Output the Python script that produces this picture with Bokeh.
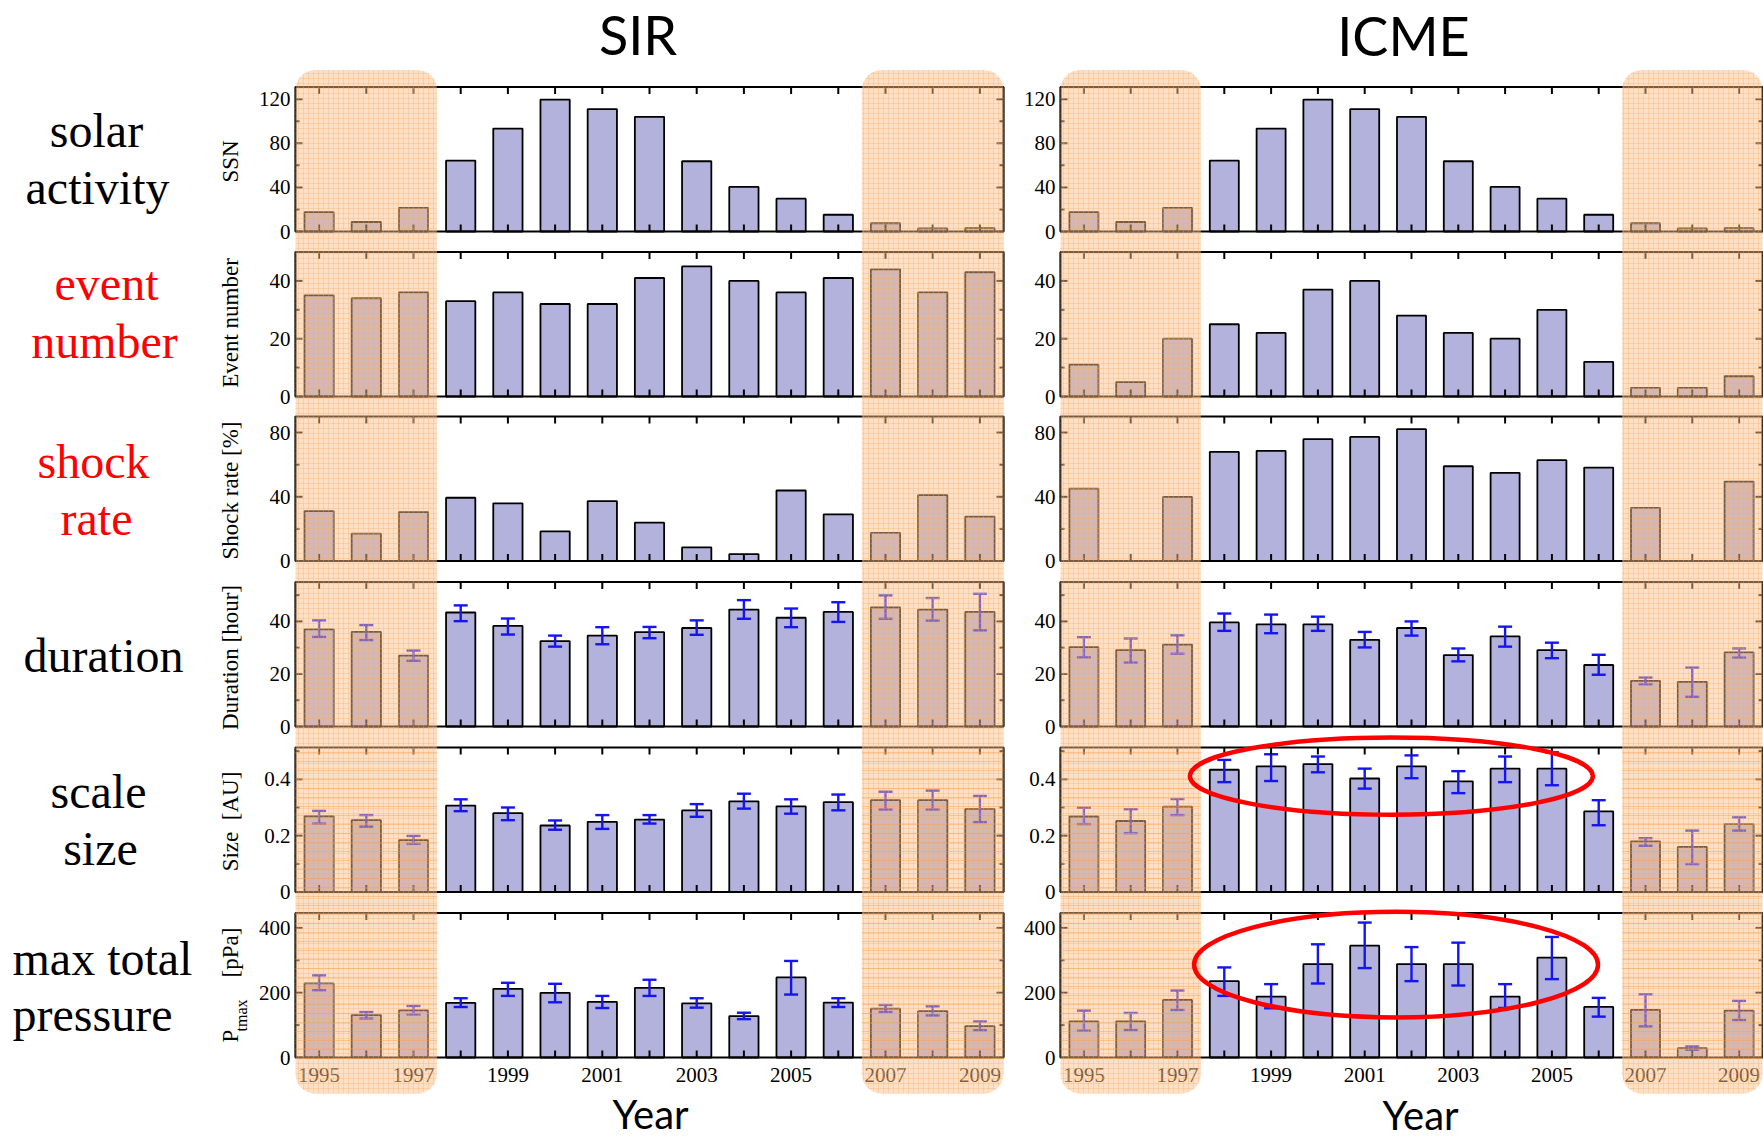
import numpy as np
from bokeh.plotting import figure
from bokeh.models import Range1d
from bokeh.embed import file_html
from bokeh.resources import INLINE
from bokeh.core.properties import value

# ---------------- data ----------------
years = list(range(1995, 2010))
year_labels = [1995, 1997, 1999, 2001, 2003, 2005, 2007, 2009]

ssn = [17.5, 8.6, 21.5, 64.3, 93.3, 119.6, 111.0, 104.0, 63.7, 40.4, 29.8, 15.2, 7.5, 2.9, 3.1]

sir_event = [35, 34, 36, 33, 36, 32, 32, 41, 45, 40, 36, 41, 44, 36, 43]
icme_event = [11, 5, 20, 25, 22, 37, 40, 28, 22, 20, 30, 12, 3, 3, 7]

sir_shock = [31.1, 17.1, 30.5, 39.4, 35.9, 18.4, 37.3, 23.9, 8.5, 4.3, 43.9, 29.1, 17.5, 41.0, 27.6]
icme_shock = [45.1, 0, 39.9, 68.0, 68.6, 75.9, 77.3, 82.1, 59.0, 54.9, 62.8, 58.2, 33.1, 0, 49.5]

sir_dur = [37.0, 36.0, 27.0, 43.4, 38.3, 32.5, 34.6, 35.9, 37.5, 44.5, 41.4, 43.6, 45.3, 44.5, 43.6]
sir_dur_lo = [34.1, 32.9, 25.0, 40.1, 35.0, 30.4, 31.3, 33.6, 34.9, 41.0, 37.8, 39.8, 41.0, 40.3, 36.6]
sir_dur_hi = [40.4, 38.6, 28.9, 46.1, 41.1, 34.6, 37.8, 37.9, 40.4, 48.1, 44.9, 47.3, 49.9, 48.9, 50.5]

icme_dur = [30.2, 29.1, 31.2, 39.6, 38.9, 38.9, 33.0, 37.5, 27.2, 34.3, 29.1, 23.4, 17.4, 17.0, 28.2]
icme_dur_lo = [26.3, 24.3, 27.7, 36.4, 35.5, 36.4, 30.1, 34.6, 24.8, 30.4, 26.0, 19.7, 16.1, 11.3, 26.2]
icme_dur_hi = [34.0, 33.5, 34.7, 43.0, 42.6, 41.8, 36.0, 40.0, 29.7, 38.0, 31.9, 27.3, 18.6, 22.4, 29.7]

sir_size = [0.269, 0.255, 0.184, 0.307, 0.280, 0.236, 0.249, 0.257, 0.290, 0.322, 0.304, 0.319, 0.326, 0.326, 0.295]
sir_size_lo = [0.243, 0.232, 0.171, 0.287, 0.255, 0.221, 0.224, 0.243, 0.267, 0.296, 0.278, 0.290, 0.293, 0.293, 0.248]
sir_size_hi = [0.288, 0.273, 0.199, 0.329, 0.300, 0.254, 0.273, 0.273, 0.312, 0.349, 0.329, 0.346, 0.356, 0.360, 0.341]

icme_size = [0.268, 0.252, 0.303, 0.434, 0.446, 0.454, 0.403, 0.446, 0.393, 0.438, 0.438, 0.286, 0.180, 0.160, 0.241]
icme_size_lo = [0.241, 0.209, 0.273, 0.390, 0.394, 0.425, 0.367, 0.404, 0.351, 0.390, 0.379, 0.237, 0.164, 0.099, 0.218]
icme_size_hi = [0.299, 0.294, 0.330, 0.469, 0.489, 0.481, 0.438, 0.485, 0.429, 0.481, 0.496, 0.326, 0.191, 0.218, 0.265]

sir_pres = [228.6, 130.9, 145.5, 168.3, 212.0, 199.5, 171.4, 215.0, 167.3, 127.8, 247.3, 169.4, 150.6, 143.4, 96.6]
sir_pres_lo = [207.8, 120.5, 133.0, 155.8, 190.1, 170.4, 152.7, 190.0, 153.8, 118.4, 194.3, 155.8, 140.3, 129.9, 84.2]
sir_pres_hi = [253.5, 140.3, 159.0, 182.9, 230.6, 227.5, 190.1, 240.0, 182.9, 138.2, 298.0, 182.9, 162.0, 157.9, 111.2]

icme_pres = [111.6, 111.6, 177.8, 235.7, 188.1, 288.4, 345.2, 288.4, 288.4, 188.1, 308.0, 156.1, 146.8, 28.9, 144.7]
icme_pres_lo = [82.7, 84.8, 146.8, 190.2, 151.9, 228.4, 276.0, 235.7, 222.2, 153.0, 241.9, 126.1, 96.1, 23.8, 115.8]
icme_pres_hi = [144.7, 137.5, 206.7, 278.0, 226.4, 349.4, 416.5, 340.8, 354.5, 226.4, 372.0, 184.0, 195.3, 34.1, 174.7]

# axis setup per row: (ymax, major ticks, major labels, minor ticks)
row_axes = [
    (131, [0, 40, 80, 120], ["0", "40", "80", "120"], [20, 60, 100]),
    (50, [0, 20, 40], ["0", "20", "40"], [10, 30]),
    (90, [0, 40, 80], ["0", "40", "80"], [20, 60]),
    (55, [0, 20, 40], ["0", "20", "40"], [10, 30, 50]),
    (0.513, [0, 0.2, 0.4], ["0", "0.2", "0.4"], [0.1, 0.3, 0.5]),
    (446, [0, 200, 400], ["0", "200", "400"], [100, 300]),
]

quiet_bands_left = [1994.5, 2006.5]
quiet_bands_right = [1997.5, 2009.5]

row_titles = [["solar", "activity"], ["event", "number"], ["shock", "rate"],
              ["duration"], ["scale", "size"], ["max total", "pressure"]]
row_title_colors = ["black", "red", "red", "black", "black", "black"]
y_titles = ["SSN", "Event number", "Shock rate [%]", "Duration [hour]", "Size\u00a0\u00a0[AU]"]

# ---------------- layout / style ----------------
W, H = 1763, 1139
XL = (1994.5, 2009.5)
COLS = {"SIR": (295.0, 1003.0), "ICME": (1060.0, 1762.0)}
ROW_TOP = [86.5, 251.5, 416.0, 581.5, 747.0, 912.5]
ROW_H = 144.5
BAR_W = 0.62
BAR_FILL = "#B2B2DC"
ERR_COL = "#1515F0"
SERIF = value("Liberation Serif")
SANS = value("Lato")

p = figure(width=W, height=H, x_range=Range1d(0, W), y_range=Range1d(H, 0),
           output_backend="svg", toolbar_location=None,
           x_axis_type=None, y_axis_type=None, min_border=0,
           outline_line_color=None, background_fill_color="white",
           border_fill_color="white")
p.grid.visible = False


def make_sub(col, row, ymax):
    x0, x1 = COLS[col]
    top = ROW_TOP[row]
    return p.subplot(x_source=Range1d(*XL), y_source=Range1d(0, ymax),
                     x_target=Range1d(x0, x1), y_target=Range1d(top + ROW_H, top))


def draw_panel(col, row, vals, lo=None, hi=None, show_years=False):
    ymax, majors, maj_labels, minors = row_axes[row]
    s = make_sub(col, row, ymax)
    x0, x1 = COLS[col]
    ppx = (x1 - x0) / (XL[1] - XL[0])
    ppy = ROW_H / ymax
    s.vbar(x=years, top=vals, bottom=0, width=BAR_W, fill_color=BAR_FILL,
           line_color="black", line_width=1.8)
    if lo is not None:
        cap = 7.0 / ppx
        xl = [y - cap for y in years]
        xr = [y + cap for y in years]
        s.segment(x0=years, x1=years, y0=lo, y1=hi, line_color=ERR_COL, line_width=2.4)
        s.segment(x0=xl, x1=xr, y0=lo, y1=lo, line_color=ERR_COL, line_width=2.4)
        s.segment(x0=xl, x1=xr, y0=hi, y1=hi, line_color=ERR_COL, line_width=2.4)
    # frame
    s.quad(left=[XL[0]], right=[XL[1]], bottom=[0], top=[ymax], fill_color=None,
           line_color="black", line_width=2.2)
    # x ticks (inward, top and bottom)
    tl = 7.0 / ppy
    s.segment(x0=years, x1=years, y0=[0] * len(years), y1=[tl] * len(years),
              line_color="black", line_width=2)
    s.segment(x0=years, x1=years, y0=[ymax] * len(years), y1=[ymax - tl] * len(years),
              line_color="black", line_width=2)
    # y ticks (inward, left and right)
    for ticks, L in ((majors, 7.0 / ppx), (minors, 4.0 / ppx)):
        n = len(ticks)
        s.segment(x0=[XL[0]] * n, x1=[XL[0] + L] * n, y0=ticks, y1=ticks,
                  line_color="black", line_width=2)
        s.segment(x0=[XL[1]] * n, x1=[XL[1] - L] * n, y0=ticks, y1=ticks,
                  line_color="black", line_width=2)
    s.text(x=[XL[0]] * len(majors), y=majors, text=maj_labels, x_offset=-5,
           text_align="right", text_baseline="middle", text_font=SERIF,
           text_font_size=value("21px"), text_color="black")
    if show_years:
        s.text(x=year_labels, y=[0] * len(year_labels), text=[str(y) for y in year_labels],
               y_offset=17, text_align="center", text_baseline="middle", text_font=SERIF,
               text_font_size=value("21px"), text_color="black")
    return s


sir_rows = [(ssn, None, None), (sir_event, None, None), (sir_shock, None, None),
            (sir_dur, sir_dur_lo, sir_dur_hi), (sir_size, sir_size_lo, sir_size_hi),
            (sir_pres, sir_pres_lo, sir_pres_hi)]
icme_rows = [(ssn, None, None), (icme_event, None, None), (icme_shock, None, None),
             (icme_dur, icme_dur_lo, icme_dur_hi), (icme_size, icme_size_lo, icme_size_hi),
             (icme_pres, icme_pres_lo, icme_pres_hi)]

icme_subs = {}
for r in range(6):
    v, lo, hi = sir_rows[r]
    draw_panel("SIR", r, v, lo, hi, show_years=(r == 5))
    v, lo, hi = icme_rows[r]
    icme_subs[r] = draw_panel("ICME", r, v, lo, hi, show_years=(r == 5))

# ---------------- texts ----------------
p.text(x=[637.5, 1403], y=[34, 34.5], text=["SIR", "ICME"], text_font=SANS,
       text_font_size=value("54px"), text_align="center", text_baseline="middle",
       text_color="black")
p.text(x=[650, 1420], y=[1113.5, 1114.5], text=["Year", "Year"], text_font=SANS,
       text_font_size=value("40px"), text_align="center", text_baseline="middle",
       text_color="black")

# row titles (y = visual middle of each line)
TF = value("48px")
title_pos = [
    [(96, 130), (97, 187)],
    [(106, 283), (104, 341)],
    [(93, 460.5), (96, 518)],
    [(103, 654.5)],
    [(98, 791), (100, 848)],
]
for r, lines in enumerate(row_titles[:5]):
    for (tx, ty), t in zip(title_pos[r], lines):
        p.text(x=[tx], y=[ty], text=[t], text_font=SERIF, text_font_size=TF,
               text_align="center", text_baseline="middle", text_color=row_title_colors[r])
p.text(x=[12, 12], y=[958, 1014], text=row_titles[5], text_font=SERIF,
       text_font_size=TF, text_align="left", text_baseline="middle",
       text_color="black")

# y-axis titles (SIR column only)
ytitle_centers = [161, 322.5, 490, 657, 821]
for t, cy in zip(y_titles, ytitle_centers):
    p.text(x=[230], y=[cy], text=[t], angle=np.pi / 2, text_font=SERIF,
           text_font_size=value("23px"), text_align="center", text_baseline="middle",
           text_color="black")
# P_tmax [pPa]
p.text(x=[230], y=[1042], text=["P"], angle=np.pi / 2, text_font=SERIF,
       text_font_size=value("23px"), text_align="left", text_baseline="middle",
       text_color="black")
p.text(x=[241], y=[1031], text=["tmax"], angle=np.pi / 2, text_font=SERIF,
       text_font_size=value("16px"), text_align="left", text_baseline="middle",
       text_color="black")
p.text(x=[230], y=[977], text=["[pPa]"], angle=np.pi / 2, text_font=SERIF,
       text_font_size=value("23px"), text_align="left", text_baseline="middle",
       text_color="black")

# ---------------- quiet-sun shading ----------------
for col in ("SIR", "ICME"):
    x0, x1 = COLS[col]
    b = p.subplot(x_source=Range1d(*XL), y_source=Range1d(H, 0),
                  x_target=Range1d(x0, x1), y_target=Range1d(H, 0))
    b.quad(left=quiet_bands_left, right=quiet_bands_right, top=[69.5, 69.5], bottom=[1093, 1093],
           fill_color="#FBBE86", fill_alpha=0.48, line_color=None,
           hatch_pattern="+", hatch_scale=5, hatch_weight=1, hatch_color="#F6A860",
           hatch_alpha=0.3, border_radius=20)
    b.quad(left=quiet_bands_left, right=quiet_bands_right, top=[749, 749], bottom=[1060, 1060],
           fill_color=None, line_color=None, hatch_pattern="-", hatch_scale=9,
           hatch_weight=1.2, hatch_color="#F39A45", hatch_alpha=0.4)

# ---------------- highlight ellipses (ICME size and pressure) ----------------
icme_subs[4].ellipse(x=[2001.57], y=[0.4115], width=[8.61], height=[0.274],
                     fill_color=None, line_color="red", line_width=4.5)
icme_subs[5].ellipse(x=[2001.67], y=[286.6], width=[8.63], height=[326],
                     fill_color=None, line_color="red", line_width=4.5)

open("out.html", "w").write(file_html(p, INLINE))
